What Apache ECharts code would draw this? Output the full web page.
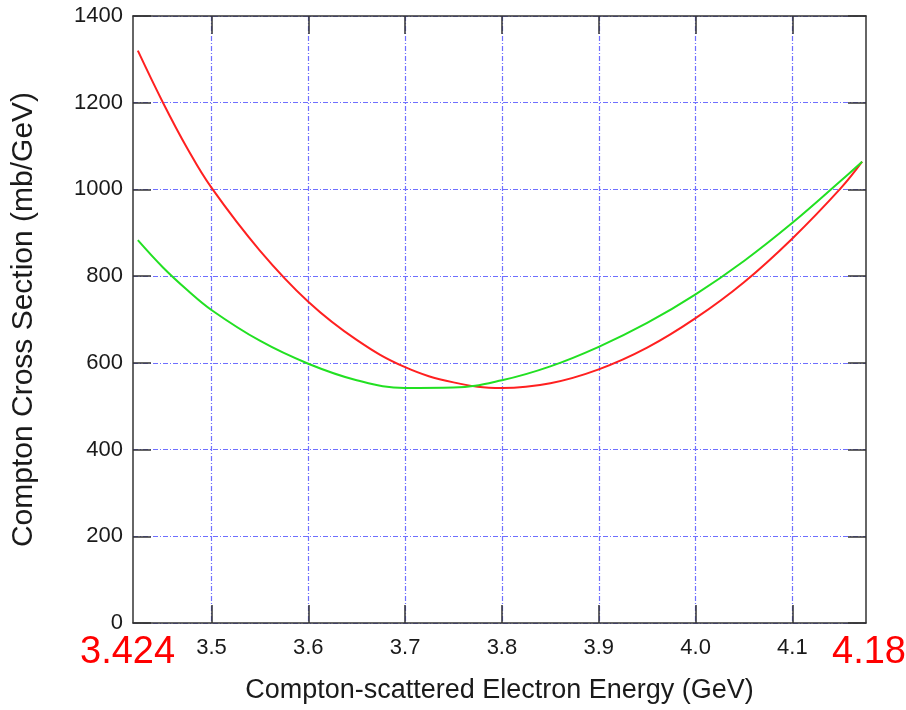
<!DOCTYPE html>
<html>
<head>
<meta charset="utf-8">
<title>Compton Cross Section</title>
<script src="https://cdn.jsdelivr.net/npm/echarts@6/dist/echarts.min.js"></script>
<style>
  html, body { margin: 0; padding: 0; background: #fff; }
  #chart { width: 906px; height: 710px; }
</style>
</head>
<body>
<div id="chart"></div>
<script>
// electron energy (GeV) and cross sections (mb/GeV)
const energy = [3.424, 3.45, 3.475, 3.5, 3.55, 3.6, 3.65, 3.7, 3.75, 3.8, 3.85, 3.9, 3.95, 4.0, 4.05, 4.1, 4.15, 4.172];
const redCurve = [1320, 1200, 1095, 1004, 859, 741, 653, 590, 555, 542, 553, 585, 635, 703, 786, 887, 1003, 1064];
const greenCurve = [883, 820, 768, 722, 651, 598, 560, 542, 543, 560, 592, 637, 692, 758, 835, 923, 1020, 1064];

const xTicks = [3.5, 3.6, 3.7, 3.8, 3.9, 4.0, 4.1];
const xMin = 3.419;
const xMax = 4.176;
const endLabels = ["3.424", "4.18"];

const font = "Liberation Sans, Arial, sans-serif";
const gridDash = [5, 2, 1, 2];

function pairs(xs, ys) {
  return xs.map((x, i) => [x, ys[i]]);
}

const chart = echarts.init(document.getElementById("chart"));

const frameTick = { show: true, inside: true, length: 18, lineStyle: { color: "#333", width: 1.5 } };
const frameLine = { show: true, onZero: false, lineStyle: { color: "#333", width: 1.5 } };
const gridLine = { show: true, lineStyle: { color: "#6f6fff", width: 1.2, type: gridDash } };

chart.setOption({
  animation: false,
  grid: { left: 133, right: 40, top: 16, bottom: 87 },
  xAxis: [
    {
      type: "value",
      position: "bottom",
      min: xMin,
      max: xMax,
      name: "Compton-scattered Electron Energy (GeV)",
      nameLocation: "middle",
      nameGap: 54,
      nameTextStyle: { fontFamily: font, fontSize: 27, color: "#1a1a1a" },
      axisLine: frameLine,
      axisTick: Object.assign({}, frameTick, { customValues: xTicks }),
      axisLabel: {
        customValues: xTicks,
        margin: 14,
        fontFamily: font,
        fontSize: 22,
        color: "#1a1a1a",
        formatter: (v) => v.toFixed(1),
      },
      splitLine: gridLine,
    },
    {
      type: "value",
      position: "top",
      min: xMin,
      max: xMax,
      axisLine: frameLine,
      axisTick: Object.assign({}, frameTick, { customValues: xTicks }),
      axisLabel: { show: false },
      splitLine: { show: false },
    },
  ],
  yAxis: [
    {
      type: "value",
      position: "left",
      min: 0,
      max: 1400,
      interval: 200,
      name: "Compton Cross Section (mb/GeV)",
      nameLocation: "middle",
      nameGap: 94,
      nameTextStyle: { fontFamily: font, fontSize: 30, color: "#1a1a1a" },
      axisLine: frameLine,
      axisTick: frameTick,
      axisLabel: {
        margin: 10,
        fontFamily: font,
        fontSize: 22,
        color: "#1a1a1a",
        formatter: (v) => String(v),
      },
      splitLine: gridLine,
    },
    {
      type: "value",
      position: "right",
      min: 0,
      max: 1400,
      interval: 200,
      axisLine: frameLine,
      axisTick: frameTick,
      axisLabel: { show: false },
      splitLine: { show: false },
    },
  ],
  series: [
    {
      type: "line",
      data: pairs(energy, redCurve),
      smooth: 0.4,
      showSymbol: false,
      lineStyle: { color: "#ff2020", width: 2 },
    },
    {
      type: "line",
      data: pairs(energy, greenCurve),
      smooth: 0.4,
      showSymbol: false,
      lineStyle: { color: "#22e022", width: 2 },
    },
  ],
  graphic: [
    {
      type: "text",
      left: 80,
      top: 634,
      style: { text: endLabels[0], fill: "#ff0000", font: "38px " + font },
    },
    {
      type: "text",
      left: 832,
      top: 634,
      style: { text: endLabels[1], fill: "#ff0000", font: "38px " + font },
    },
  ],
});
</script>
</body>
</html>
